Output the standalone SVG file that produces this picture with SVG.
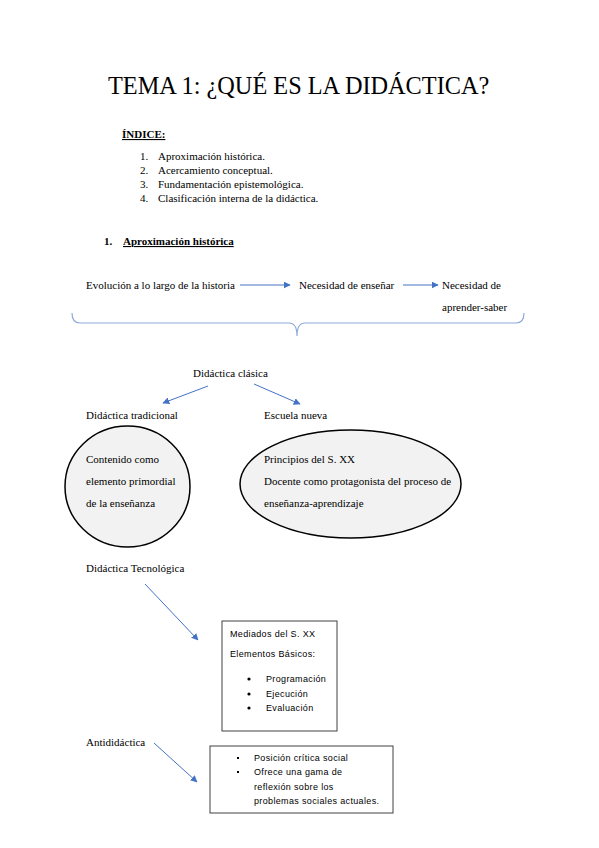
<svg xmlns="http://www.w3.org/2000/svg" width="599" height="848" viewBox="0 0 599 848">
<style>
.t{font-family:"Liberation Serif","Times New Roman",serif;font-size:11px;fill:#000}
.b{font-weight:bold}
.s{font-family:"Liberation Sans",Arial,sans-serif;font-size:9px;letter-spacing:0.35px;fill:#000}
.arr{stroke:#4472c4;stroke-width:1;fill:none;marker-end:url(#ah)}
.ell{fill:#f2f2f2;stroke:#000;stroke-width:1.5}
.box{fill:#fff;stroke:#404040;stroke-width:1}
</style>
<defs>
<marker id="ah" viewBox="0 0 10 10" refX="9" refY="5" markerWidth="7" markerHeight="7" markerUnits="userSpaceOnUse" orient="auto">
<path d="M0,0 L10,5 L0,10 z" fill="#4472c4"/>
</marker>
</defs>
<rect width="599" height="848" fill="#fff"/>
<text x="108" y="94" style="font-family:'Liberation Serif','Times New Roman',serif;font-size:24.3px">TEMA 1: ¿QUÉ ES LA DIDÁCTICA?</text>
<text x="122" y="138" class="t b" style="font-size:11px;text-decoration:underline">ÍNDICE:</text>
<g class="t">
<text x="140" y="160">1.</text><text x="158" y="160">Aproximación histórica.</text>
<text x="140" y="174">2.</text><text x="158" y="174">Acercamiento conceptual.</text>
<text x="140" y="188">3.</text><text x="158" y="188">Fundamentación epistemológica.</text>
<text x="140" y="202">4.</text><text x="158" y="202">Clasificación interna de la didáctica.</text>
</g>
<text x="104" y="245" class="t b">1.</text>
<text x="123" y="245" class="t b" style="text-decoration:underline">Aproximación histórica</text>

<g id="n-evolucion"><text x="86" y="289" class="t">Evolución a lo largo de la historia</text></g>
<g id="n-ensenar"><text x="299" y="289" class="t">Necesidad de enseñar</text></g>
<g id="n-aprender"><text x="442" y="289" class="t">Necesidad de</text><text x="442" y="311" class="t">aprender-saber</text></g>
<g id="n-clasica"><text x="193" y="377" class="t">Didáctica clásica</text></g>
<g id="n-tradicional"><text x="86" y="419" class="t">Didáctica tradicional</text></g>
<g id="n-nueva"><text x="264" y="419" class="t">Escuela nueva</text></g>
<g id="n-ell1">
<ellipse cx="127.5" cy="486.5" rx="62.5" ry="60.5" class="ell"/>
<text x="86" y="463" class="t">Contenido como</text>
<text x="86" y="485" class="t">elemento primordial</text>
<text x="86" y="507" class="t">de la enseñanza</text>
</g>
<g id="n-ell2">
<ellipse cx="350.5" cy="484" rx="110.5" ry="54" class="ell"/>
<text x="264" y="463" class="t">Principios del S. XX</text>
<text x="264" y="485" class="t">Docente como protagonista del proceso de</text>
<text x="264" y="507" class="t">enseñanza-aprendizaje</text>
</g>
<g id="n-tecnologica"><text x="86" y="572" class="t">Didáctica Tecnológica</text></g>
<g id="n-box1">
<rect x="222" y="621" width="115" height="110" class="box"/>
<text x="230" y="637" class="s">Mediados del S. XX</text>
<text x="230" y="657" class="s">Elementos Básicos:</text>
<circle cx="249" cy="679" r="1.6"/><text x="266" y="682" class="s">Programación</text>
<circle cx="249" cy="694" r="1.6"/><text x="266" y="697" class="s">Ejecución</text>
<circle cx="249" cy="708" r="1.6"/><text x="266" y="711" class="s">Evaluación</text>
</g>
<g id="n-anti"><text x="86" y="746" class="t">Antididáctica</text></g>
<g id="n-box2">
<rect x="210" y="746" width="183" height="67" class="box"/>
<rect x="237" y="757" width="2" height="2"/><text x="254" y="761" class="s">Posición crítica social</text>
<rect x="237" y="771" width="2" height="2"/><text x="254" y="775" class="s">Ofrece una gama de</text>
<text x="254" y="790" class="s">reflexión sobre los</text>
<text x="254" y="804" class="s">problemas sociales actuales.</text>
</g>
<g id="connectors">
<line x1="240" y1="285" x2="290" y2="285" class="arr"/>
<line x1="403" y1="285" x2="438" y2="285" class="arr"/>
<path d="M72,313 Q72,323 80,323 L289,323 Q297,323 297,336 Q297,323 305,323 L516,323 Q524,323 524,313" fill="none" stroke="#8eaadb" stroke-width="1.2"/>
<line x1="208" y1="386" x2="163" y2="403" class="arr"/>
<line x1="254" y1="384" x2="300" y2="404" class="arr"/>
<line x1="145" y1="584" x2="198" y2="640" class="arr"/>
<line x1="154" y1="743" x2="197" y2="782" class="arr"/>
</g>
</svg>
